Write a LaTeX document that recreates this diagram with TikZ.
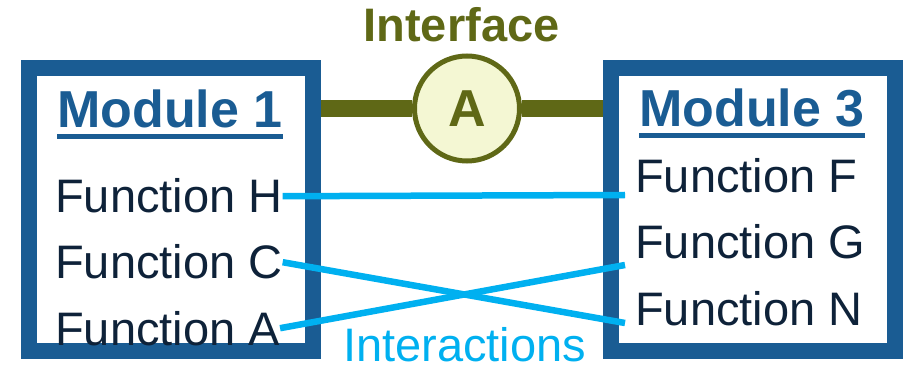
\documentclass[tikz,border=0pt]{standalone}
\usepackage{fontspec}
\setmainfont{Liberation Sans}
\usetikzlibrary{calc}
\definecolor{modblue}{HTML}{1A5C93}
\definecolor{inktext}{HTML}{0E2239}
\definecolor{linkblue}{HTML}{00B0F0}
\definecolor{ifcolive}{HTML}{5F6816}
\definecolor{ifccream}{HTML}{F4F7D3}
\begin{document}
\begin{tikzpicture}[x=1pt,y=-1pt,
  modbox/.style={draw=modblue, line width=16pt, minimum width=284pt, minimum height=283pt, inner sep=0pt},
  modtitle/.style={anchor=base west, inner sep=0pt, text=modblue, font=\fontsize{52}{56}\selectfont\bfseries},
  functext/.style={anchor=base west, inner sep=0pt, text=inktext, font=\fontsize{47}{50}\selectfont},
  linkline/.style={draw=linkblue, line width=6.5pt},
  ifcbar/.style={draw=ifcolive, line width=16.5pt},
  ifcnode/.style={circle, draw=ifcolive, line width=5pt, fill=ifccream, minimum size=105pt, inner sep=0pt,
    text=ifcolive, font=\fontsize{52}{56}\selectfont\bfseries},
  underl/.style={draw=modblue, line width=5pt}
]
\useasboundingbox (0,0) rectangle (908,366);

% module frames
\node[modbox] (box1) at (171,209.5) {};
\node[modbox] (box3) at (752.5,209.5) {};

% interface bar and its circle
\node[ifcnode] (ifc) at (467,108.5) {};
\draw[ifcbar] (box1.east |- ifc.center) -- (ifc.west);
\draw[ifcbar] (ifc.east) -- (box3.west |- ifc.center);
\node[ifcnode, draw=none, fill=none] (ifcA) at (ifc.center) {A};
\node[anchor=base, inner sep=0pt, text=ifcolive, font=\fontsize{47}{50}\selectfont\bfseries] (ifclabel) at (461.5,42) {Interface};

% module titles with underlines
\node[modtitle] (m1) at (57,128) {Module 1};
\node[modtitle] (m3) at (639,127) {Module 3};
\draw[underl] ([yshift=-8pt]m1.south west) -- ([yshift=-8pt]m1.south east);
\draw[underl] ([yshift=-8pt]m3.south west) -- ([yshift=-8pt]m3.south east);

% functions
\node[functext] (fH) at (55,213) {Function H};
\node[functext] (fC) at (55,279) {Function C};
\node[functext] (fA) at (55,345) {Function A};
\node[functext] (fF) at (635,193) {Function F};
\node[functext] (fG) at (635,259) {Function G};
\node[functext] (fN) at (635,325) {Function N};

% interaction ends on the right frame
\coordinate (pF) at (625,195);
\coordinate (pG) at (625,265);
\coordinate (pN) at (625,323);

\draw[linkline] (fH.east) -- (pF);
\draw[linkline] (fC.east) -- (pN);
\draw[linkline] (fA.east) -- (pG);

\node[anchor=base west, inner sep=0pt, text=linkblue, font=\fontsize{47}{50}\selectfont] (ilabel) at (343,361) {Interactions};
\end{tikzpicture}
\end{document}
